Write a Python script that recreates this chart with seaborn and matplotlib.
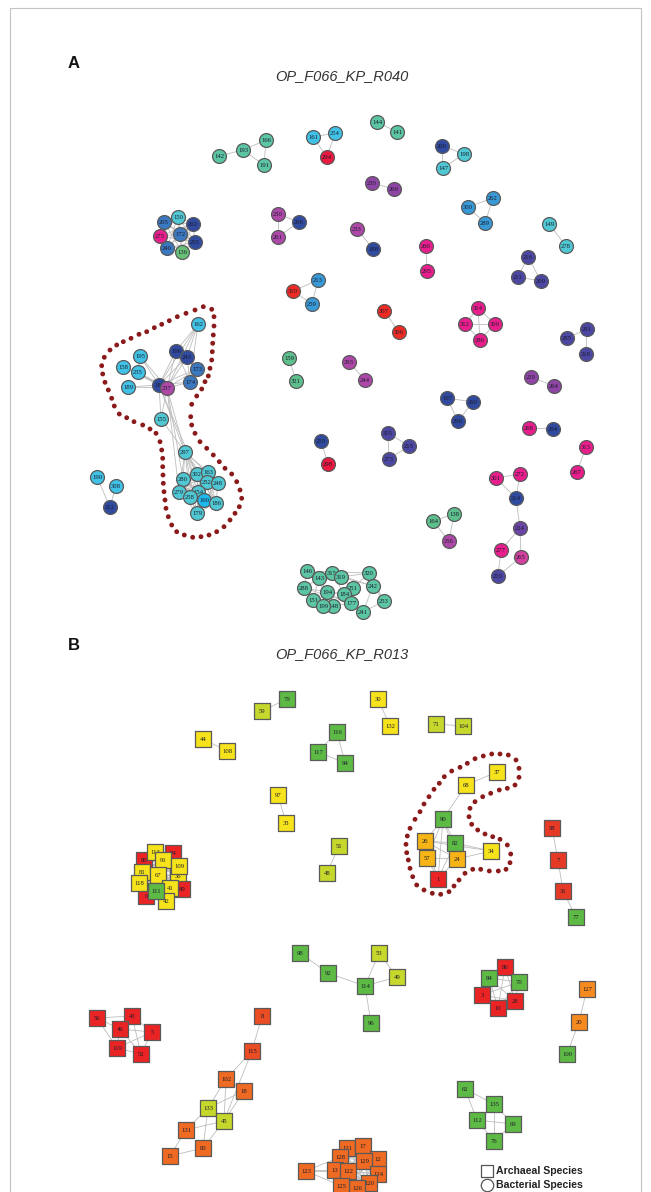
import itertools
import matplotlib
matplotlib.use("Agg")
import matplotlib.pyplot as plt
import seaborn as sns
import pandas as pd

sns.set_theme(style="white")
plt.rcParams["font.family"] = ["Liberation Sans", "DejaVu Sans"]

# ---------------- Panel A: bacterial co-occurrence network (circles) ----------------
a_ids = [142, 193, 166, 191, 161, 254, 294, 144, 141, 200, 198, 147,
         150, 205, 202, 275, 172, 255, 240, 136, 250, 206, 261, 230, 269,
         233, 188, 266, 295, 300, 262, 289, 149, 278, 216, 211, 209,
         310, 213, 259, 307, 306, 314, 312, 309, 286, 291, 285, 218,
         162, 196, 243, 195, 158, 235, 173, 174, 189, 181, 237,
         159, 321, 293, 244, 229, 264, 197, 260, 296, 155, 268, 204,
         305, 215, 273, 210, 298, 313, 267,
         297, 302, 163, 280, 252, 248, 154, 279, 258, 160, 186, 179,
         190, 308, 212, 301, 272, 214, 224, 277, 265, 219, 164, 138, 256,
         146, 143, 315, 319, 320, 288, 251, 242, 194, 184, 151, 177, 148, 199, 253, 241]
a_x = [219, 243, 266, 264, 313, 335, 327, 377, 397, 442, 464, 443,
       178, 164, 193, 160, 180, 195, 167, 182, 278, 299, 278, 372, 394,
       357, 373, 426, 427, 468, 493, 485, 549, 566, 528, 518, 541,
       293, 318, 312, 384, 399, 478, 465, 495, 480, 587, 567, 586,
       198, 176, 187, 140, 123, 138, 197, 190, 128, 159, 167,
       289, 296, 349, 365, 531, 554, 447, 473, 458, 161, 529, 553,
       388, 409, 389, 321, 328, 586, 577,
       185, 197, 208, 183, 207, 218, 198, 179, 190, 204, 216, 197,
       97, 116, 110, 496, 520, 516, 520, 501, 521, 498, 433, 454, 449,
       307, 319, 332, 341, 369, 304, 353, 373, 327, 344, 313, 351, 333, 323, 384, 363]
a_y = [156, 150, 140, 165, 137, 133, 157, 122, 132, 146, 154, 168,
       217, 222, 224, 236, 234, 242, 248, 252, 214, 222, 237, 183, 189,
       229, 249, 246, 271, 207, 198, 223, 224, 246, 257, 277, 281,
       291, 280, 304, 311, 332, 308, 324, 324, 340, 329, 338, 354,
       324, 351, 357, 356, 367, 372, 369, 382, 387, 385, 388,
       358, 381, 362, 380, 377, 386, 398, 402, 421, 419, 428, 429,
       433, 446, 459, 441, 464, 447, 472,
       452, 474, 472, 479, 482, 483, 492, 492, 497, 500, 503, 513,
       477, 486, 507, 478, 474, 498, 528, 550, 557, 576, 521, 514, 541,
       571, 578, 573, 577, 573, 588, 588, 586, 592, 594, 600, 603, 606, 606, 601, 612]
a_grp = ["teal", "teal", "teal", "teal", "cyan", "cyan", "crimson", "teal", "teal", "navy", "aqua", "aqua",
         "aqua", "midblue", "navy", "magenta", "midblue", "navy", "midblue", "green", "purple", "navy", "purple", "violet", "violet",
         "purple", "navy", "magenta", "magenta", "sky", "sky", "sky", "aqua", "aqua", "indigo", "indigo", "indigo",
         "red", "sky", "sky", "red", "red", "magenta", "magenta", "magenta", "magenta", "indigo", "indigo", "indigo",
         "cyan", "navy", "navy", "cyan", "cyan", "cyan", "midblue", "midblue", "cyan", "navy", "purple",
         "sea", "sea", "purple", "purple", "violet", "violet", "navy", "navy", "navy", "aqua", "magenta", "navy",
         "indigo", "indigo", "indigo", "navy", "crimson", "magenta", "magenta",
         "aqua", "aqua", "aqua", "aqua", "aqua", "aqua", "aqua", "aqua", "aqua", "brightcyan", "aqua", "aqua",
         "cyan", "cyan", "navy", "magenta", "magenta", "navy", "plum", "magenta", "pinkpurple", "indigo", "sea", "sea", "purple",
         "teal", "teal", "teal", "teal", "teal", "teal", "teal", "teal", "teal", "teal", "teal", "teal", "teal", "teal", "teal", "teal"]

a_palette = {"teal": "#5cc5a3", "green": "#68c078", "sea": "#5dbf8c", "cyan": "#3fc2e6",
             "brightcyan": "#1fb8ec", "aqua": "#50c8d3", "sky": "#3799d6", "midblue": "#3a78c0",
             "navy": "#2f4a9f", "indigo": "#4c47a2", "plum": "#6a45a5", "violet": "#8f45a5",
             "purple": "#ad48a8", "pinkpurple": "#d23f9e", "magenta": "#e91e8c",
             "crimson": "#ec1840", "red": "#ee2a24"}

a_edges = [(142, 193), (193, 166), (193, 191), (166, 191), (161, 254), (161, 294), (254, 294),
           (144, 141), (200, 198), (200, 147), (198, 147), (230, 269), (250, 206), (250, 261),
           (261, 206), (233, 188), (266, 295), (300, 262), (300, 289), (262, 289), (149, 278),
           (216, 211), (216, 209), (211, 209), (310, 213), (213, 259), (310, 259), (307, 306),
           (314, 312), (314, 309), (312, 286), (309, 286), (314, 286), (312, 309), (291, 285),
           (291, 218), (159, 321), (293, 244), (229, 264), (197, 260), (197, 296), (260, 296),
           (268, 204), (313, 267), (305, 215), (305, 273), (215, 273), (210, 298),
           (301, 272), (301, 214), (272, 214), (214, 224), (224, 277), (224, 265), (277, 219),
           (265, 219), (164, 138), (164, 256), (138, 256), (190, 212), (308, 212),
           (162, 196), (162, 243), (162, 174), (162, 181), (162, 237), (196, 243), (196, 181),
           (196, 237), (196, 174), (196, 173), (243, 173), (243, 174), (243, 181), (243, 237),
           (173, 181), (173, 237), (174, 181), (174, 237), (195, 181), (195, 237), (195, 235),
           (158, 181), (158, 237), (158, 235), (235, 181), (235, 237), (189, 181), (189, 237),
           (181, 237), (181, 155), (237, 155), (181, 297), (237, 297), (155, 297), (237, 280),
           (181, 302), (237, 279),
           (146, 143), (146, 288), (143, 315), (143, 194), (315, 319), (319, 320), (320, 242),
           (320, 251), (242, 253), (253, 241), (241, 177), (251, 184), (184, 177), (194, 184),
           (288, 151), (151, 199), (199, 148), (148, 177), (319, 251), (288, 194), (143, 288),
           (194, 199), (242, 241), (320, 253), (315, 184), (319, 242), (146, 194), (143, 151),
           (146, 320), (288, 177), (151, 251), (194, 241), (315, 242)]
a_cliques = [[150, 205, 202, 275, 172, 255, 240, 136],
             [297, 302, 163, 280, 252, 248, 154, 279, 258, 160, 186, 179]]

# dotted outline around the highlighted module in A
a_out_x = [211.7, 203.3, 195, 186, 177.3, 169.3, 161.7, 154.3, 146.7, 139, 131, 123.3, 116.7, 110,
           104.3, 101.7, 102.7, 105, 108.3, 111.7, 114.3, 119.3, 126.7, 134, 142.7, 150, 156, 160,
           161.7, 162.7, 162.7, 163, 163.3, 164, 165, 166, 168.3, 171.7, 176.7, 184.3, 192.7, 201,
           209, 216.7, 224, 230, 235, 239.3, 241.7, 240, 236.7, 231.7, 225, 219.3, 213.3, 206.7,
           200, 195, 191.7, 190.7, 191.7, 196.7, 201.7, 205, 208.3, 210, 211.7, 212.3, 212.7,
           213.3, 214, 214]
a_out_y = [309.3, 306.7, 310, 313.3, 316.7, 320.7, 324.3, 327.7, 331.7, 334.3, 338.3, 341.7, 345,
           350, 357.3, 365.7, 374, 382.3, 390, 398.3, 406, 414, 417.7, 421.7, 425, 429, 433.3,
           441.7, 450, 458.3, 466.7, 475, 483.3, 491.7, 500, 508.3, 516.7, 525, 531.7, 535, 537.3,
           536.7, 535, 531.7, 526.7, 520, 513.3, 506.7, 498.3, 490, 481.7, 474, 468.3, 461.7,
           455, 448.3, 441.7, 433.3, 425, 416.7, 404.3, 396, 389, 381.7, 376, 368.3, 360, 351.7,
           343.3, 335, 326, 316.7]

# ---------------- Panel B: archaeal co-occurrence network (squares) ----------------
b_ids = [79, 59, 44, 108, 116, 117, 94, 30, 132, 71, 104, 97, 33, 51, 48,
         37, 68, 90, 26, 82, 34, 57, 24, 1, 58, 7, 31, 77,
         80, 74, 6, 36, 113, 91, 109, 81, 67, 118, 89, 41, 42, 111,
         98, 92, 114, 53, 49, 96, 86, 84, 70, 3, 28, 10, 127, 20, 100,
         56, 43, 46, 5, 119, 52, 8, 115, 102, 18, 133, 45, 131, 83, 15,
         62, 135, 112, 69, 76,
         123, 121, 17, 128, 12, 129, 124, 120, 13, 122, 126, 125]
b_x = [287, 262, 203, 227, 337, 318, 345, 378, 390, 436, 463, 278, 286, 339, 327,
       497, 466, 443, 425, 455, 491, 427, 457, 438, 552, 558, 563, 576,
       144, 173, 146, 178, 155, 163, 179, 142, 158, 139, 182, 170, 166, 156,
       300, 328, 365, 379, 397, 371, 505, 489, 519, 482, 515, 498, 587, 579, 567,
       97, 132, 120, 152, 117, 141, 262, 252, 226, 244, 208, 224, 186, 203, 170,
       465, 494, 477, 513, 494,
       306, 347, 363, 340, 378, 364, 378, 369, 335, 348, 357, 341]
b_y = [699, 711, 739, 751, 732, 752, 763, 699, 726, 724, 726, 795, 823, 846, 873,
       772, 785, 819, 841, 843, 851, 858, 859, 879, 828, 860, 891, 917,
       860, 853, 896, 876, 852, 860, 866, 872, 875, 883, 889, 888, 901, 891,
       953, 973, 986, 953, 977, 1023, 967, 978, 982, 995, 1001, 1008, 989, 1022, 1054,
       1018, 1016, 1029, 1032, 1048, 1054, 1016, 1051, 1079, 1091, 1108, 1121, 1130, 1148, 1156,
       1089, 1104, 1120, 1124, 1141,
       1171, 1148, 1146, 1157, 1159, 1161, 1174, 1183, 1170, 1171, 1188, 1186]
b_grp = ["green", "lime", "yellow", "yellow", "green", "green", "green", "yellow", "yellow", "lime", "lime",
         "yellow", "yellow", "lime", "lime",
         "yellow", "yellow", "green", "amber", "green", "yellow", "amber", "amber", "red", "scarlet", "scarlet", "scarlet", "green",
         "red", "red", "red", "yellow", "yellow", "yellow", "yellow", "yellow", "yellow", "yellow", "red", "yellow", "yellow", "green",
         "green", "green", "green", "lime", "lime", "green", "red", "green", "green", "red", "red", "red", "orange", "orange", "green",
         "red", "red", "red", "red", "red", "red", "vermilion", "vermilion", "tangerine", "tangerine", "lime", "lime",
         "tangerine", "tangerine", "tangerine",
         "green", "green", "green", "green", "green",
         "tangerine", "tangerine", "tangerine", "tangerine", "tangerine", "tangerine", "tangerine", "tangerine",
         "tangerine", "tangerine", "tangerine", "tangerine"]

b_palette = {"green": "#5dba45", "lime": "#c6d82c", "yellow": "#f6e31b", "amber": "#f6b416",
             "orange": "#f58a1f", "tangerine": "#ef6a22", "vermilion": "#ea4c24",
             "scarlet": "#e63a26", "red": "#ea2424"}

b_edges = [(79, 59), (44, 108), (116, 117), (116, 94), (117, 94), (97, 33), (51, 48), (30, 132),
           (71, 104), (37, 68), (68, 90), (90, 26), (90, 57), (90, 24), (90, 82), (90, 1),
           (26, 82), (26, 24), (26, 34), (26, 57), (57, 24), (57, 1), (82, 24), (82, 34), (82, 1),
           (24, 34), (24, 1), (26, 1), (58, 7), (7, 31), (31, 77),
           (98, 92), (92, 114), (114, 53), (114, 49), (53, 49), (114, 96), (127, 20), (20, 100),
           (56, 43), (56, 46), (56, 119), (43, 46), (43, 5), (43, 52), (46, 5), (46, 119),
           (46, 52), (119, 5), (119, 52), (5, 52),
           (8, 115), (115, 102), (115, 45), (102, 133), (102, 45), (102, 18), (18, 133), (18, 45),
           (133, 131), (133, 83), (45, 131), (45, 83), (131, 15), (15, 83),
           (62, 135), (62, 112), (135, 76), (135, 69), (112, 69), (112, 76), (76, 69),
           (123, 128), (123, 13), (123, 125), (123, 122)]
b_cliques = [[80, 74, 6, 36, 113, 91, 109, 81, 67, 118, 89, 41, 42, 111],
             [86, 84, 70, 3, 28, 10],
             [121, 17, 128, 12, 129, 124, 120, 13, 122, 126, 125]]

b_out_x = [407.3, 410, 415, 420, 424, 429, 434, 439.3, 444.3, 451.7, 460, 467.3, 475, 483.3,
           491.7, 500, 508.3, 516, 519, 519, 515, 507.3, 499.3, 490.7, 482.7, 475, 470, 469,
           471.7, 477.7, 485, 492.7, 500, 507.3, 510.7, 510, 506, 498.3, 489.3, 480.7, 472.7,
           465, 459, 454, 449, 440.7, 432.3, 424, 416.7, 412.7, 410, 408.3, 406.7, 406]
b_out_y = [836, 828.3, 819.3, 811.7, 804, 796.7, 789.3, 783.3, 776.7, 771, 767.3, 763.3, 758.7,
           756, 754, 754, 755, 760, 768.3, 777.3, 785, 788.3, 790, 793.3, 796.7, 801.7, 808.3,
           816.7, 824.3, 830, 834, 836.7, 839.3, 845, 854, 862.7, 869.3, 871, 871, 869.3, 869.3,
           873.3, 880, 886, 891.7, 894.3, 893.3, 890, 885, 876.7, 868.3, 860, 852.7, 844.3]

legend_labels = ["Archaeal Species", "Bacterial Species"]

# ---------------- drawing ----------------
fig = plt.figure(figsize=(6.51, 11.92), dpi=100)
ax = fig.add_axes([0, 0, 1, 1])
ax.set_xlim(0, 651)
ax.set_ylim(1192, 0)
ax.axis("off")

# light frame
ax.plot([10, 10, 641, 641], [1200, 8, 8, 1200], color="#c4c4c4", lw=0.8, zorder=0)

EDGE_COLOR = "#bdbdbd"
LABEL_FONT = ["Liberation Serif", "DejaVu Serif"]


def draw_network(ids, xs, ys, groups, palette, edges, cliques, marker, size, z0):
    nodes = pd.DataFrame({"id": ids, "x": xs, "y": ys, "grp": groups})
    pos = {r.id: (r.x, r.y) for r in nodes.itertuples()}
    all_edges = list(edges)
    for c in cliques:
        all_edges += list(itertools.combinations(c, 2))
    for u, v in all_edges:
        ax.plot([pos[u][0], pos[v][0]], [pos[u][1], pos[v][1]],
                color=EDGE_COLOR, lw=0.6, zorder=z0, solid_capstyle="butt")
    # nodes drawn one after another so later nodes overlap earlier labels
    for i, r in enumerate(nodes.itertuples()):
        z = z0 + 1 + 2 * i
        sns.scatterplot(x=[r.x], y=[r.y], ax=ax, marker=marker, s=size,
                        color=palette[r.grp], edgecolor="#5a5a5a", linewidth=0.9,
                        legend=False, zorder=z)
        ax.text(r.x, r.y + 0.3, str(r.id), ha="center", va="center",
                fontsize=4.8, family=LABEL_FONT, color="#1c1c2c", zorder=z + 1)


draw_network(a_ids, a_x, a_y, a_grp, a_palette, a_edges, a_cliques, "o", 100, 2)
draw_network(b_ids, b_x, b_y, b_grp, b_palette, b_edges, b_cliques, "s", 124, 2)

# dotted outlines
for ox, oy in [(a_out_x, a_out_y), (b_out_x, b_out_y)]:
    sns.scatterplot(x=ox, y=oy, ax=ax, s=12, color="#8b1a1a", edgecolor="none",
                    legend=False, zorder=600)

# panel letters and titles
ax.text(68, 63, "A", fontsize=12, fontweight="bold", ha="left", va="center", color="#111111")
ax.text(342, 76, "OP_F066_KP_R040", fontsize=10.5, style="italic", ha="center",
        va="center", color="#333333")
ax.text(68, 645, "B", fontsize=12, fontweight="bold", ha="left", va="center", color="#111111")
ax.text(342, 654, "OP_F066_KP_R013", fontsize=10.5, style="italic", ha="center",
        va="center", color="#333333")

# shape legend
sns.scatterplot(x=[487], y=[1171], ax=ax, marker="s", s=80, color="white",
                edgecolor="#555555", linewidth=0.9, legend=False, zorder=700)
sns.scatterplot(x=[487], y=[1185], ax=ax, marker="o", s=80, color="white",
                edgecolor="#555555", linewidth=0.9, legend=False, zorder=700)
for yy, lab in zip([1171, 1185], legend_labels):
    ax.text(496, yy, lab, fontsize=7.6, fontweight="bold", ha="left", va="center",
            color="#222222", zorder=701)

fig.savefig("out.png", dpi=100)
